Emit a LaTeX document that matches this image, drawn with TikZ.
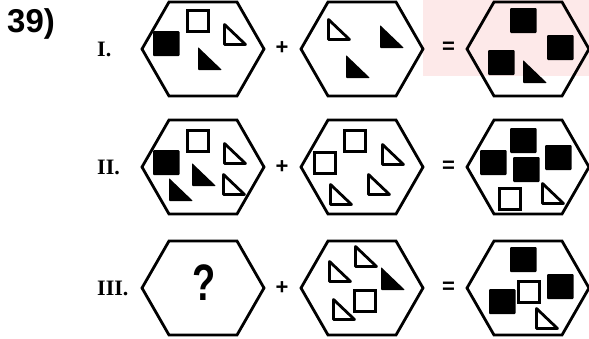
\documentclass[tikz,border=0pt]{standalone}
\usepackage{fontspec}
\setmainfont{Liberation Serif}
\setsansfont{Liberation Sans}
\usepackage{xcolor}
\definecolor{blush}{RGB}{253,233,233}
\usetikzlibrary{positioning}
\tikzset{
  hexcell/.style={draw=black,line width=2.8pt},
  bsq/.style={fill=black,rounded corners=1pt},
  wsq/.style={draw=black,line width=3pt},
  btri/.style={fill=black,rounded corners=0.8pt},
  wtri/.style={draw=black,line width=2.8pt,line join=round},
  rowlbl/.style={font=\fontsize{22}{22}\selectfont\bfseries,anchor=west,inner sep=0pt},
  op/.style={font=\fontsize{22}{22}\selectfont\sffamily\bfseries,inner sep=0pt},
}
\begin{document}
\begin{tikzpicture}[x=1pt,y=-1pt]
\useasboundingbox (0,0) rectangle (589,338);
\fill[blush] (423,0) rectangle (589,76);
% hexagons
\foreach \cx/\cy in {203/49,362/49,528/49,203/167,362/167,528/167,203/288,362/288,528/288}
  \draw[hexcell] (\cx-61,\cy) -- (\cx-34,\cy-47) -- (\cx+34,\cy-47) -- (\cx+61,\cy)
    -- (\cx+34,\cy+47) -- (\cx-34,\cy+47) -- cycle;
% black squares
\foreach \x/\y in {153/31,510/8,547/35,488/50,153/150,510/128,480/150,545/145,513/157,510/247,547/274,489/289}
  \fill[bsq] (\x,\y) rectangle ++(26.5,25);
% white squares
\foreach \x/\y in {186/9,186/129,343/129,313/151,498/187,353/289,517/280}
  \draw[wsq] (\x+1.5,\y+1.5) rectangle ++(21,21);
% black triangles
\foreach \x/\y in {198/47,380/25,346/55,523/60,192/163,169/178,381/267}
  \fill[btri] (\x,\y) -- (\x,\y+23) -- (\x+24,\y+23) -- cycle;
% white triangles
\foreach \x/\y in {223/23,327/18,223/142,222/173,381/143,367/173,329/183,541/182,328/260,354/245,332/298,535/307}
  \draw[wtri] (\x+1.5,\y+1.5) -- (\x+1.5,\y+21.5) -- (\x+22.5,\y+21.5) -- cycle;
% labels
\node[font=\fontsize{33}{33}\selectfont\sffamily\bfseries,anchor=base west,inner sep=0pt] (num) at (7,32) {39)};
\node[rowlbl] (lblI) at (97,49) {I.};
\node[rowlbl] (lblII) at (97,167) {II.};
\node[rowlbl] (lblIII) at (97,288) {III.};
\node[font=\fontsize{38}{38}\selectfont\sffamily\bfseries,yscale=1.35,anchor=base,inner sep=0pt] (qmark) at (204,300) {?};
\foreach \r/\cy in {I/48,II/167,III/288}{
  \node[op] (plus\r) at (282,\cy) {+};
  \node[op] (eq\r) at (448.5,\cy) {=};
}
\end{tikzpicture}
\end{document}
